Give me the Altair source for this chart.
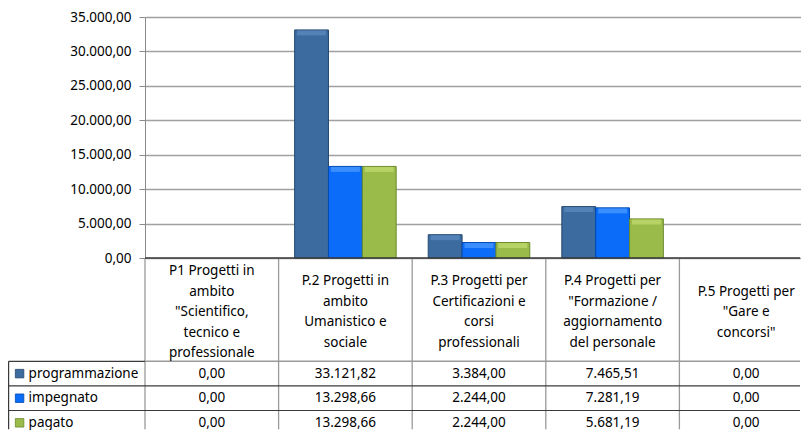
import altair as alt
import pandas as pd

# ---- data ----
keys = ["P1", "P2", "P3", "P4", "P5"]
cat_labels = [
    'P1 Progetti in\nambito\n"Scientifico,\ntecnico e\nprofessionale',
    'P.2 Progetti in\nambito\nUmanistico e\nsociale',
    'P.3 Progetti per\nCertificazioni e\ncorsi\nprofessionali',
    'P.4 Progetti per\n"Formazione /\naggiornamento\ndel personale',
    'P.5 Progetti per\n"Gare e\nconcorsi"',
]
series = ["programmazione", "impegnato", "pagato"]
programmazione = [0.00, 33121.82, 3384.00, 7465.51, 0.00]
impegnato = [0.00, 13298.66, 2244.00, 7281.19, 0.00]
pagato = [0.00, 13298.66, 2244.00, 5681.19, 0.00]
y_ticks = [0, 5000, 10000, 15000, 20000, 25000, 30000, 35000]

colors = ["#3b6b9f", "#0a6cf8", "#9abb4a"]
highlights = ["#5d8cc0", "#4f9cff", "#c3dc70"]
edges = ["#24486f", "#0049b0", "#6b8a2c"]
FONT = "Noto Sans"
FS = 13.5
ROW_PX = 24.6          # pixels per table row unit
LINE_H = 20.5
HEAD_BOTTOM = 4.2
LEFT = -136.4
W = 655                # visible plot width (page edge)
X_RANGE = 668          # full category span (runs past the page edge, as in the reference)
BAR_H = 241
TAB_H = 172


def it_fmt(v):
    s = f"{v:,.2f}"
    return s.replace(",", "_").replace(".", ",").replace("_", ".")


values = {"programmazione": programmazione, "impegnato": impegnato, "pagato": pagato}
rows = []
for si, s in enumerate(series):
    for k, v in zip(keys, values[s]):
        rows.append({"key": k, "series": s, "value": v, "text": it_fmt(v), "yc": HEAD_BOTTOM + 0.5 + si})
df = pd.DataFrame(rows)

header_center = 2.2
header_first = [header_center - (lab.count("\n")) / 2 * LINE_H / ROW_PX for lab in cat_labels]
header_df = pd.DataFrame({"key": keys, "label": cat_labels, "yc": header_first})
y_end = TAB_H / ROW_PX - 0.03
vrule_df = pd.DataFrame({"key": keys, "y0": [0] * len(keys), "y1": [y_end] * len(keys)})
hline_df = pd.DataFrame({"y": [HEAD_BOTTOM + 1, HEAD_BOTTOM + 2]})
legend_df = pd.DataFrame({"series": series, "yc": [HEAD_BOTTOM + 0.5 + i for i in range(3)]})

color_scale = alt.Scale(domain=series, range=colors)

# ---- bar panel ----
x_bar = alt.X("key:N", sort=keys,
              scale=alt.Scale(domain=keys, range=[0, X_RANGE], paddingInner=0.24, paddingOuter=0.12), axis=None)
xoff = alt.XOffset("series:N", sort=series, scale=alt.Scale(domain=series, paddingInner=0, paddingOuter=0))
y_bar = alt.Y("value:Q", scale=alt.Scale(domain=[0, 35000], nice=False),
              axis=alt.Axis(values=y_ticks, title=None, grid=True, gridColor="#a0a0a0", gridWidth=1.6,
                            domainColor="#8a8a8a", tickColor="#8a8a8a", tickSize=6, labelPadding=8,
                            labelFont=FONT, labelFontSize=FS, labelColor="#000", labelOverlap=False,
                            labelExpr="replace(replace(replace(format(datum.value, ',.2f'), ',', '_'), '.', ','), '_', '.')"))

bars = alt.Chart(df).transform_filter("datum.value > 0").mark_bar(strokeWidth=1).encode(
    x=x_bar, xOffset=xoff, y=y_bar,
    color=alt.Color("series:N", scale=color_scale, legend=None),
    stroke=alt.Stroke("series:N", scale=alt.Scale(domain=series, range=edges), legend=None),
)
tops = alt.Chart(df).transform_filter("datum.value > 0").mark_tick(thickness=5, size=29, yOffset=3).encode(
    x=x_bar, xOffset=xoff, y=y_bar,
    color=alt.Color("series:N", scale=alt.Scale(domain=series, range=highlights), legend=None),
)
bar_panel = alt.layer(bars, tops).resolve_scale(color="independent").properties(width=W, height=BAR_H)

# ---- data table panel ----
tab_xscale = alt.Scale(domain=keys, range=[0, X_RANGE], paddingInner=0, paddingOuter=0)
x_tab = alt.X("key:N", sort=keys, scale=tab_xscale, axis=None)
y_scale = alt.Scale(domain=[0, 7], range=[0, 7 * ROW_PX], nice=False)

header = alt.Chart(header_df).mark_text(font=FONT, fontSize=FS, lineBreak="\n", lineHeight=LINE_H,
                                        baseline="middle", color="#000").encode(
    x=x_tab, y=alt.Y("yc:Q", scale=y_scale, axis=None), text="label:N")
cells = alt.Chart(df).mark_text(font=FONT, fontSize=FS, baseline="middle", color="#000").encode(
    x=x_tab, y=alt.Y("yc:Q", scale=y_scale, axis=None), text="text:N")
vrules = alt.Chart(vrule_df).mark_rule(color="#9a9a9a", strokeWidth=1.3).encode(
    x=alt.X("key:N", sort=keys, scale=tab_xscale, axis=None, bandPosition=0),
    y=alt.Y("y0:Q", scale=y_scale, axis=None), y2="y1:Q")
zero_line = alt.Chart(pd.DataFrame({"y": [0]})).mark_rule(color="#3a3a3a", strokeWidth=1.3).encode(
    y=alt.Y("y:Q", scale=y_scale, axis=None), x=alt.value(0), x2=alt.value(W))
head_line_legend = alt.Chart(pd.DataFrame({"y": [HEAD_BOTTOM]})).mark_rule(color="#3a3a3a", strokeWidth=1.2).encode(
    y=alt.Y("y:Q", scale=y_scale, axis=None), x=alt.value(LEFT), x2=alt.value(0))
head_line_plot = alt.Chart(pd.DataFrame({"y": [HEAD_BOTTOM]})).mark_rule(color="#9a9a9a", strokeWidth=1.4).encode(
    y=alt.Y("y:Q", scale=y_scale, axis=None), x=alt.value(0), x2=alt.value(W))
hlines = alt.Chart(hline_df).mark_rule(color="#3a3a3a", strokeWidth=1.2).encode(
    y=alt.Y("y:Q", scale=y_scale, axis=None), x=alt.value(LEFT), x2=alt.value(W))
legend_border = alt.Chart(pd.DataFrame({"y0": [HEAD_BOTTOM], "y1": [y_end]})).mark_rule(color="#3a3a3a", strokeWidth=1.2).encode(
    y=alt.Y("y0:Q", scale=y_scale, axis=None), y2="y1:Q", x=alt.value(LEFT))
legend_sq = alt.Chart(legend_df).mark_square(size=72, opacity=1, strokeWidth=0.8).encode(
    y=alt.Y("yc:Q", scale=y_scale, axis=None), x=alt.value(LEFT + 11),
    color=alt.Color("series:N", scale=color_scale, legend=None),
    stroke=alt.Stroke("series:N", scale=alt.Scale(domain=series, range=edges), legend=None))
legend_txt = alt.Chart(legend_df).mark_text(font=FONT, fontSize=FS, align="left", baseline="middle", color="#000").encode(
    y=alt.Y("yc:Q", scale=y_scale, axis=None), x=alt.value(LEFT + 20), text="series:N")

table_panel = alt.layer(vrules, head_line_plot, head_line_legend, hlines, legend_border, zero_line,
                        header, cells, legend_sq, legend_txt).properties(width=W, height=TAB_H)

chart = alt.vconcat(bar_panel, table_panel, spacing=0, bounds="flush").properties(
    padding={"top": 2, "left": 0, "right": 0, "bottom": 0}
).configure_view(stroke=None)

chart.save("out.html", embed_options={"renderer": "svg", "actions": False})
